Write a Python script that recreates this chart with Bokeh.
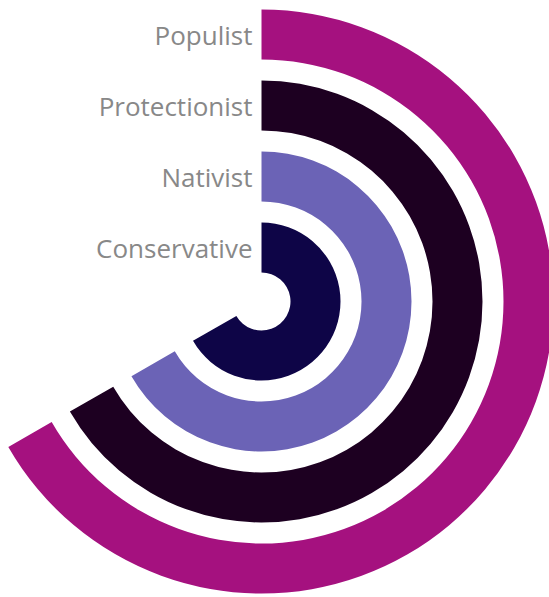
from bokeh.plotting import figure
from bokeh.models import Range1d, ColumnDataSource
from bokeh.core.properties import value
from bokeh.embed import file_html
from bokeh.resources import INLINE

# Data
categories = ["Populist", "Protectionist", "Nativist", "Conservative"]
values = [66.7, 66.7, 66.7, 66.7]   # percent of full circle
max_value = 100.0
colors = ["#A5117F", "#1D0021", "#6B63B6", "#0E0547"]

W, H = 549, 597
cx, cy = 261, H - 301
hole = 29
band = 50
step = 71

n = len(categories)
inner = [hole + step * (n - 1 - i) for i in range(n)]
outer = [r + band for r in inner]
start = [90.0] * n
end = [90.0 - v / max_value * 360.0 for v in values]

src = ColumnDataSource(dict(
    cat=categories, val=values, color=colors,
    x=[cx] * n, y=[cy] * n, inner=inner, outer=outer,
    start=start, end=end,
    ly=[cy + (a + b) / 2.0 for a, b in zip(inner, outer)],
    lx=[cx - 9] * n,
))

p = figure(width=W, height=H, output_backend="svg", toolbar_location=None,
           x_range=Range1d(0, W), y_range=Range1d(0, H),
           min_border=0, outline_line_color=None)
p.axis.visible = False
p.grid.visible = False
p.background_fill_color = "white"
p.border_fill_color = "white"

p.annular_wedge(x="x", y="y", inner_radius="inner", outer_radius="outer",
                start_angle="start", end_angle="end", start_angle_units="deg",
                end_angle_units="deg", direction="clock",
                fill_color="color", line_color=None, source=src)

p.text(x="lx", y="ly", text="cat", source=src, text_align="right",
       text_baseline="middle", text_font=value("Open Sans"),
       text_font_size="26px", text_color="#888888")

open("out.html", "w").write(file_html(p, INLINE))
